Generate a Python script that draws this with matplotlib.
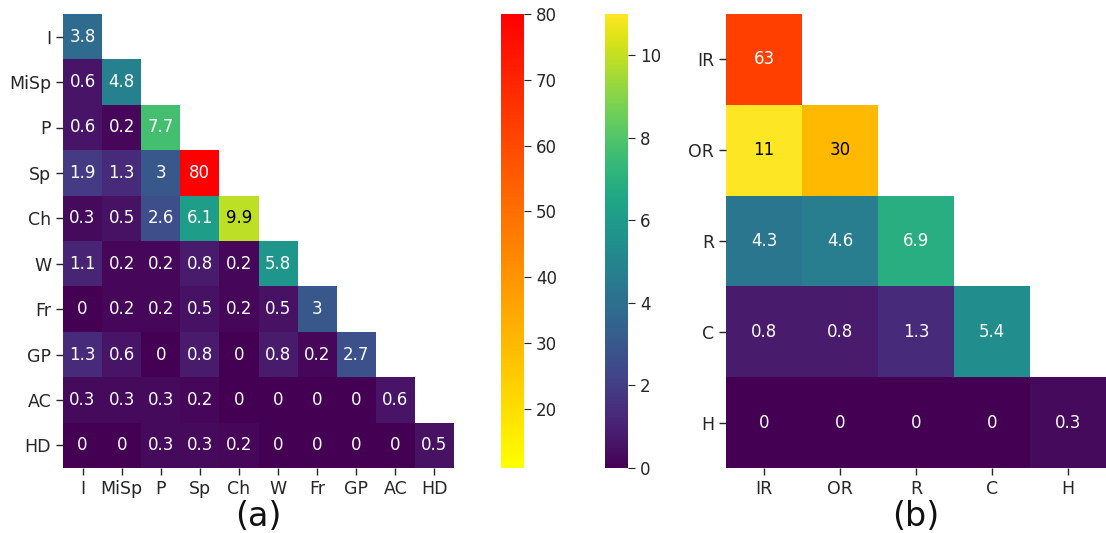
import numpy as np
import matplotlib
matplotlib.use("Agg")
import matplotlib.pyplot as plt
from matplotlib.colors import Normalize, to_rgb
from matplotlib.cm import ScalarMappable

labels_a = ["I", "MiSp", "P", "Sp", "Ch", "W", "Fr", "GP", "AC", "HD"]
rows_a = [
    [3.8],
    [0.6, 4.8],
    [0.6, 0.2, 7.7],
    [1.9, 1.3, 3, 80],
    [0.3, 0.5, 2.6, 6.1, 9.9],
    [1.1, 0.2, 0.2, 0.8, 0.2, 5.8],
    [0, 0.2, 0.2, 0.5, 0.2, 0.5, 3],
    [1.3, 0.6, 0, 0.8, 0, 0.8, 0.2, 2.7],
    [0.3, 0.3, 0.3, 0.2, 0, 0, 0, 0, 0.6],
    [0, 0, 0.3, 0.3, 0.2, 0, 0, 0, 0, 0.5],
]
labels_b = ["IR", "OR", "R", "C", "H"]
rows_b = [
    [63],
    [11, 30],
    [4.3, 4.6, 6.9],
    [0.8, 0.8, 1.3, 5.4],
    [0, 0, 0, 0, 0.3],
]
split = 11.0
high_min, high_max = 11.0, 80.0
low_min, low_max = 0.0, 11.0
high_ticks = [20, 30, 40, 50, 60, 70, 80]
low_ticks = [0, 2, 4, 6, 8, 10]

FS_TICK = 12.5
FS_ANN = 12
FS_CB = 12
FS_SUB = 24

cmap_low = plt.get_cmap("viridis")
cmap_high = plt.get_cmap("autumn_r")
norm_low = Normalize(low_min, low_max)
norm_high = Normalize(high_min, high_max)


def to_matrix(rows):
    n = len(rows)
    m = np.full((n, n), np.nan)
    for i, r in enumerate(rows):
        m[i, :len(r)] = r
    return m


def lum(c):
    r, g, b = to_rgb(c)
    def f(x):
        return x / 12.92 if x <= 0.03928 else ((x + 0.055) / 1.055) ** 2.4
    return 0.2126 * f(r) + 0.7152 * f(g) + 0.0722 * f(b)


def draw(ax, rows, labels):
    m = to_matrix(rows)
    n = m.shape[0]
    low = np.ma.masked_where(~(m <= split), m)
    high = np.ma.masked_where(~(m > split), m)
    ax.pcolormesh(np.arange(n + 1), np.arange(n + 1), low, cmap=cmap_low, norm=norm_low)
    ax.pcolormesh(np.arange(n + 1), np.arange(n + 1), high, cmap=cmap_high, norm=norm_high)
    for i in range(n):
        for j in range(n):
            v = m[i, j]
            if np.isnan(v):
                continue
            c = cmap_low(norm_low(v)) if v <= split else cmap_high(norm_high(v))
            tc = "black" if lum(c) > 0.408 else "white"
            ax.text(j + 0.5, i + 0.5, f"{v:g}", ha="center", va="center",
                    color=tc, fontsize=FS_ANN)
    ax.set_xlim(0, n)
    ax.set_ylim(n, 0)
    ax.set_xticks(np.arange(n) + 0.5)
    ax.set_yticks(np.arange(n) + 0.5)
    ax.set_xticklabels(labels, fontsize=FS_TICK)
    ax.set_yticklabels(labels, fontsize=FS_TICK)
    ax.tick_params(length=5, width=1, color="#262626", labelcolor="#262626")
    for s in ax.spines.values():
        s.set_visible(False)


fig = plt.figure(figsize=(11.06, 5.33), dpi=100)
H = 533.0
W = 1106.0

def rect(x0, x1, y0, y1):
    return [x0 / W, 1 - y1 / H, (x1 - x0) / W, (y1 - y0) / H]

TOP, BOT = 14, 468
ax_a = fig.add_axes(rect(63, 454, TOP, BOT))
cax1 = fig.add_axes(rect(501, 524, TOP, BOT))
cax2 = fig.add_axes(rect(605, 628, TOP, BOT))
ax_b = fig.add_axes(rect(726, 1106, TOP, BOT))

draw(ax_a, rows_a, labels_a)
draw(ax_b, rows_b, labels_b)

fig.text((63 + 454) / 2 / W, 1 - 516 / H, "(a)", ha="center", va="center",
         fontsize=FS_SUB, color="#111111")
fig.text((726 + 1106) / 2 / W, 1 - 516 / H, "(b)", ha="center", va="center",
         fontsize=FS_SUB, color="#111111")

cb1 = fig.colorbar(ScalarMappable(norm=norm_high, cmap=cmap_high), cax=cax1)
cb1.set_ticks(high_ticks)
cb2 = fig.colorbar(ScalarMappable(norm=norm_low, cmap=cmap_low), cax=cax2)
cb2.set_ticks(low_ticks)
for cb in (cb1, cb2):
    cb.outline.set_visible(False)
    cb.ax.tick_params(labelsize=FS_CB, length=5, color="#262626", labelcolor="#262626")

fig.savefig("out.png", dpi=100)
